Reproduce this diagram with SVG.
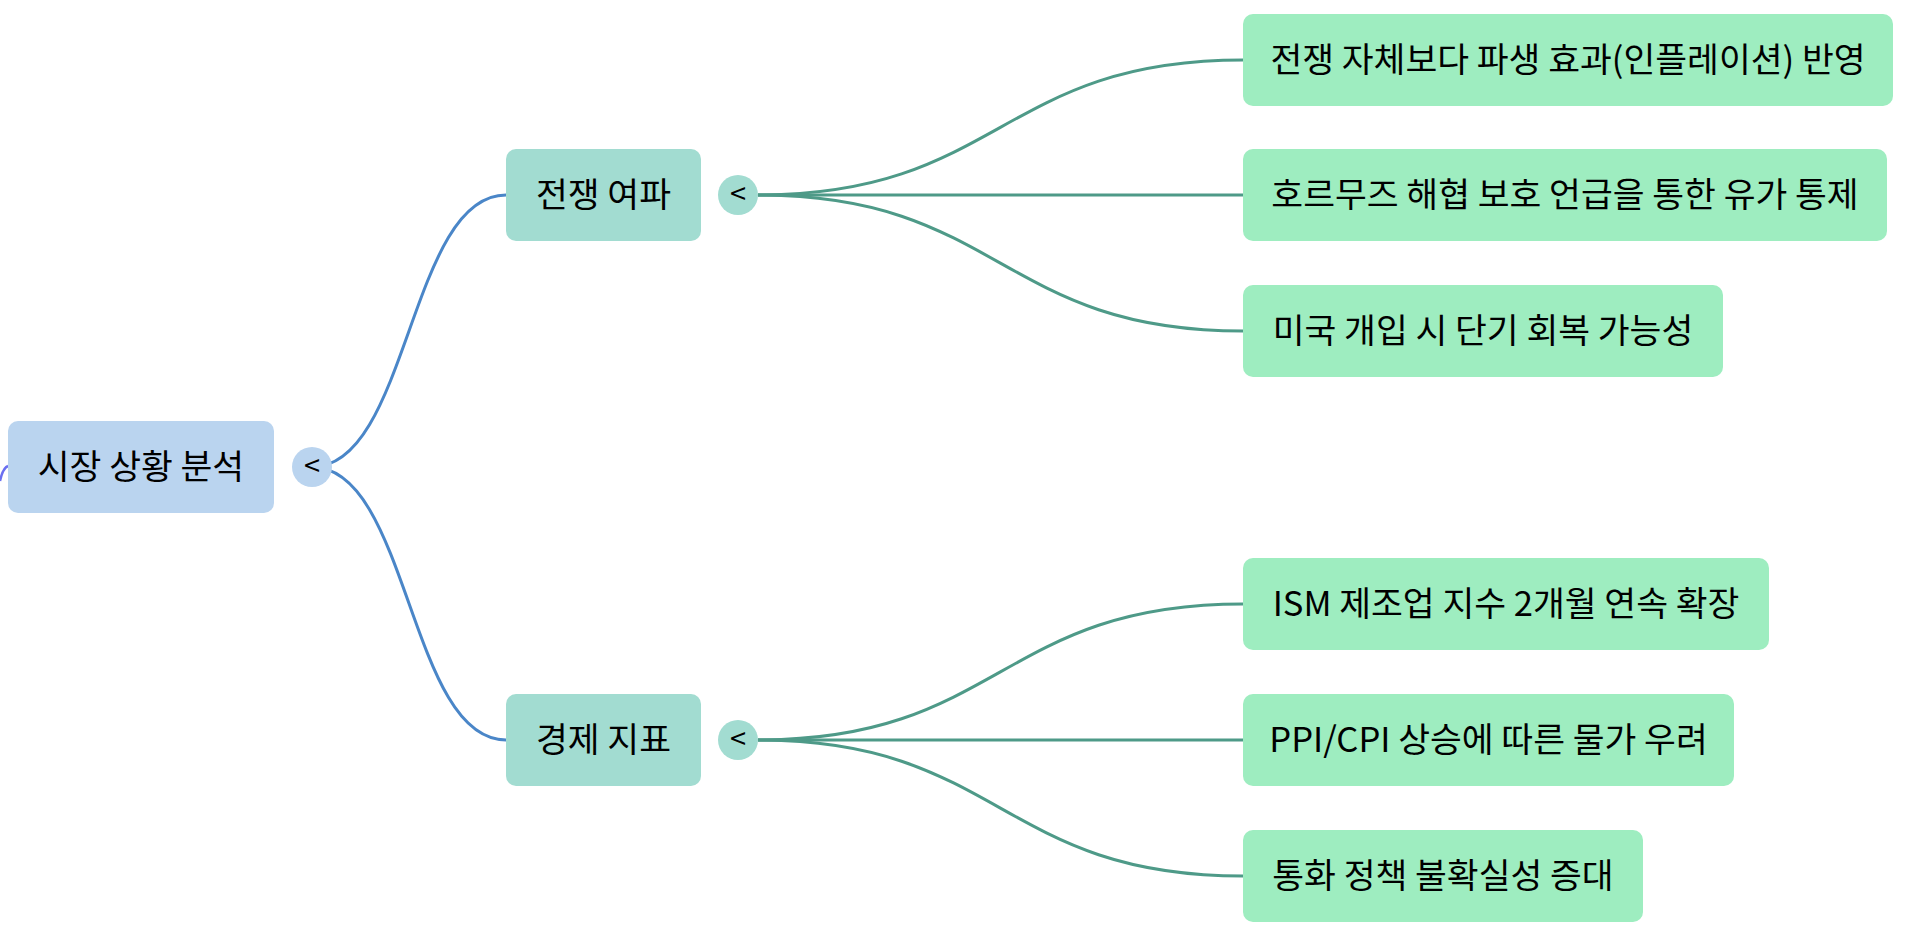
<svg xmlns="http://www.w3.org/2000/svg" width="1920" height="930" viewBox="0 0 1920 930">
<style>
text{font-family:"Noto Sans CJK KR","Noto Sans",sans-serif;fill:#000;}
.lbl{font-size:34.6px;text-anchor:middle;}
.tg{font-size:29px;text-anchor:middle;}
.root{fill:#bad4ef;}
.mid{fill:#a2dcd1;}
.leaf{fill:#9eedc0;}
.lb{fill:none;stroke:#4a86c8;stroke-width:3;}
.lt{fill:none;stroke:#4e9a88;stroke-width:3;}
</style>
<rect width="1920" height="930" fill="#ffffff"/>
<g id="connectors">
<path d="M0,481 C2,472 5,467 8,466" fill="none" stroke="#6a6ff0" stroke-width="2.5"/>
<path class="lb" d="M312,467 C409,467 409,195 506,195"/>
<path class="lb" d="M312,467 C409,467 409,740 506,740"/>
<path class="lt" d="M758,195 C1000,195 1000,60 1243,60"/>
<path class="lt" d="M758,195 L1243,195"/>
<path class="lt" d="M758,195 C1000,195 1000,331 1243,331"/>
<path class="lt" d="M758,740 C1000,740 1000,604 1243,604"/>
<path class="lt" d="M758,740 L1243,740"/>
<path class="lt" d="M758,740 C1000,740 1000,876 1243,876"/>
</g>
<g id="root">
<rect class="root" x="8" y="421" width="266" height="92" rx="10"/>
<text class="lbl" x="141" y="479">시장 상황 분석</text>
<circle class="root" cx="312" cy="467" r="20"/>
<text class="tg" x="312" y="476">&lt;</text>
</g>
<g id="war">
<rect class="mid" x="506" y="149" width="195" height="92" rx="10"/>
<text class="lbl" x="603.5" y="207">전쟁 여파</text>
<circle class="mid" cx="738" cy="195" r="20"/>
<text class="tg" x="738" y="204">&lt;</text>
</g>
<g id="econ">
<rect class="mid" x="506" y="694" width="195" height="92" rx="10"/>
<text class="lbl" x="603.5" y="752">경제 지표</text>
<circle class="mid" cx="738" cy="740" r="20"/>
<text class="tg" x="738" y="749">&lt;</text>
</g>
<g id="leaf1">
<rect class="leaf" x="1243" y="14" width="650" height="92" rx="10"/>
<text class="lbl" x="1568" y="72">전쟁 자체보다 파생 효과(인플레이션) 반영</text>
</g>
<g id="leaf2">
<rect class="leaf" x="1243" y="149" width="644" height="92" rx="10"/>
<text class="lbl" x="1565" y="207">호르무즈 해협 보호 언급을 통한 유가 통제</text>
</g>
<g id="leaf3">
<rect class="leaf" x="1243" y="285" width="480" height="92" rx="10"/>
<text class="lbl" x="1483" y="343">미국 개입 시 단기 회복 가능성</text>
</g>
<g id="leaf4">
<rect class="leaf" x="1243" y="558" width="526" height="92" rx="10"/>
<text class="lbl" x="1506" y="616">ISM 제조업 지수 2개월 연속 확장</text>
</g>
<g id="leaf5">
<rect class="leaf" x="1243" y="694" width="491" height="92" rx="10"/>
<text class="lbl" x="1488.5" y="752">PPI/CPI 상승에 따른 물가 우려</text>
</g>
<g id="leaf6">
<rect class="leaf" x="1243" y="830" width="400" height="92" rx="10"/>
<text class="lbl" x="1443" y="888">통화 정책 불확실성 증대</text>
</g>
</svg>
